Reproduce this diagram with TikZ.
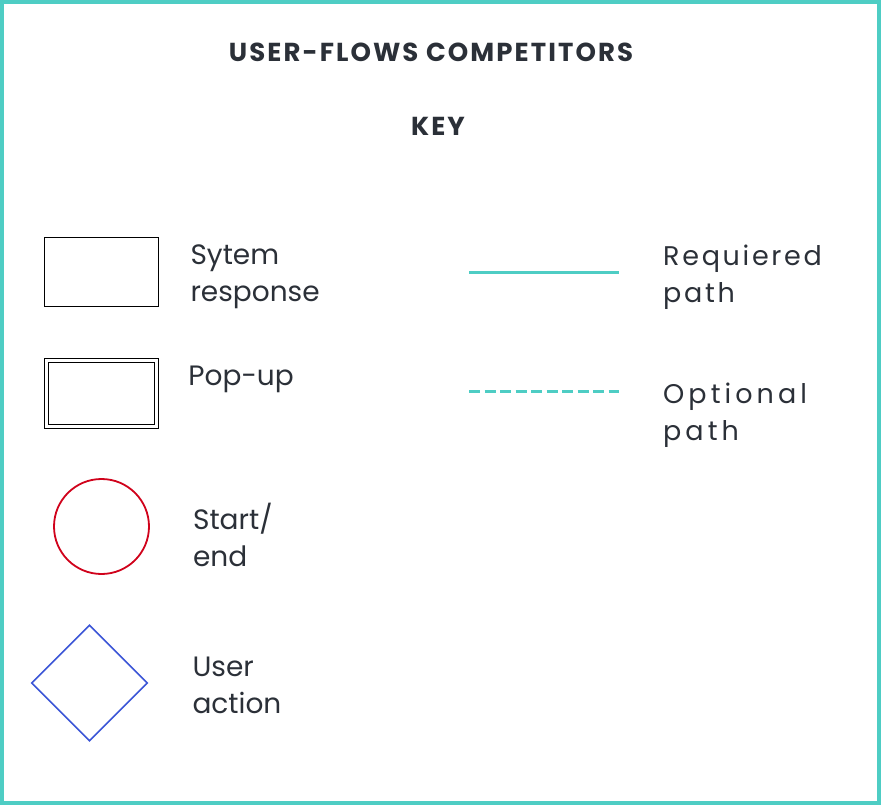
\documentclass[tikz,border=0pt]{standalone}
\usepackage{fontspec}
\setmainfont{Poppins}
\newfontfamily\widefont[LetterSpace=10]{Poppins}
\newfontfamily\widerfont[LetterSpace=15]{Poppins}
\newfontfamily\titlefont[LetterSpace=8]{Poppins}
\usetikzlibrary{positioning, shapes.geometric, calc}

\definecolor{keyteal}{HTML}{4ECDC4}
\definecolor{keyred}{HTML}{D0021B}
\definecolor{keyblue}{HTML}{3B55D6}
\definecolor{keytext}{HTML}{2B3038}

\begin{document}
\begin{tikzpicture}[
    x=1pt, y=-1pt,
    % Shapes of the key
    sys_box/.style={draw=black, rectangle, line width=1.7pt, minimum width=114pt, minimum height=69pt, inner sep=0pt},
    popup_box/.style={draw=black, rectangle, line width=1.5pt, double=white, double distance=2.3pt, minimum width=110pt, minimum height=66pt, inner sep=0pt},
    start_node/.style={draw=keyred, circle, line width=1.8pt, minimum size=95pt, inner sep=0pt},
    action_node/.style={draw=keyblue, diamond, line width=1.6pt, minimum size=116pt, inner sep=0pt},
    % Texts
    title_text/.style={font=\titlefont\bfseries\fontsize{26}{30}\selectfont, text=keytext, inner sep=0pt},
    key_text/.style={font=\fontsize{28}{37}\selectfont, text=keytext, align=left, inner sep=0pt, anchor=west},
    wide_text/.style={key_text, font=\widefont\fontsize{27}{37}\selectfont},
    wider_text/.style={key_text, font=\widerfont\fontsize{27}{37}\selectfont},
    % Path styles
    req_path/.style={draw=keyteal, line width=3pt},
    opt_path/.style={draw=keyteal, line width=3pt, dash pattern=on 11pt off 4.5pt}
]
    \useasboundingbox (0,0) rectangle (881,805);
    \draw [keyteal, line width=4pt] (2,2) rectangle (879,803);

    % ==================== Titles ====================
    \node (title) at (431,52) [title_text] {USER-FLOWS COMPETITORS};
    \node (key) [title_text, below=56pt of title, xshift=7pt] {KEY};

    % ==================== Left column: shapes ====================
    \node (sysbox) at (101.5,272) [sys_box] {};
    \node (popbox) at (101.5,393.5) [popup_box] {};
    \node (startcirc) at (101.5,526.5) [start_node] {};
    \node (actdiamond) at (89.5,683) [action_node] {};

    \node (sys_lbl) [key_text, right=31pt of sysbox, yshift=-5pt] {Sytem\\response};
    \node (pop_lbl) [key_text, right=31pt of popbox, yshift=14pt] {Pop-up};
    \node (start_lbl) [key_text, right=43pt of startcirc, yshift=-8pt] {Start/\\end};
    \node (act_lbl) [key_text, right=44pt of actdiamond, yshift=-2pt] {User\\action};

    % ==================== Right column: paths ====================
    \coordinate (req_a) at (469,272);
    \coordinate (req_b) at (619,272);
    \coordinate (opt_a) at (469,391);
    \coordinate (opt_b) at (619,391);
    \draw [req_path] (req_a) -- (req_b);
    \draw [opt_path] (opt_a) -- (opt_b);

    \node (req_lbl) [wide_text, right=44pt of req_b, yshift=-5pt] {Requiered\\path};
    \node (opt_lbl) [wider_text, right=44pt of opt_b, yshift=-24pt] {Optional\\path};

\end{tikzpicture}
\end{document}
